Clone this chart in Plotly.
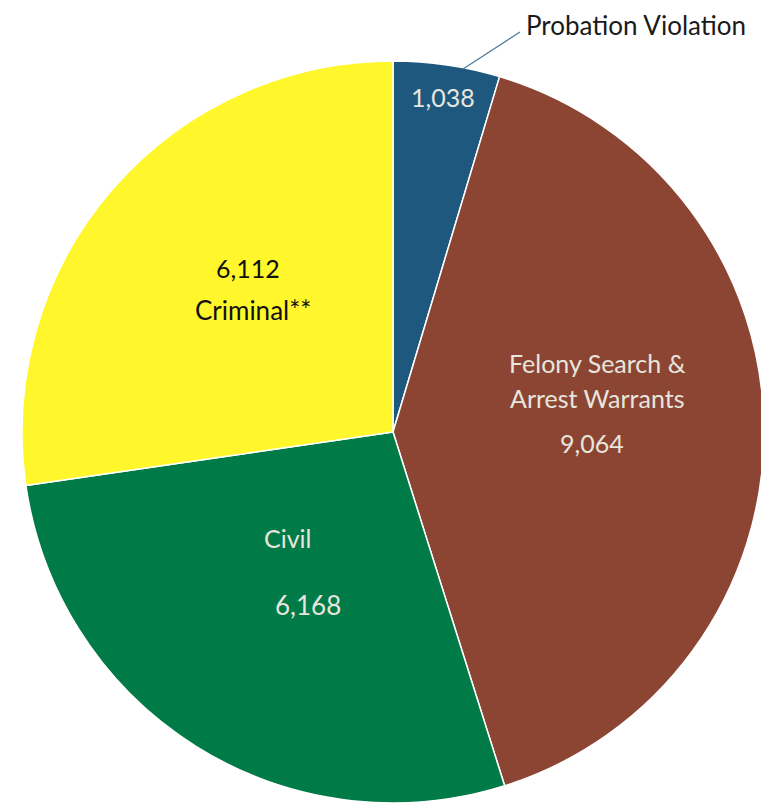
import plotly.graph_objects as go

categories = ["Probation Violation", "Felony Search & Arrest Warrants", "Civil", "Criminal**"]
values = [1038, 9064, 6168, 6112]
colors = ["#1F587E", "#8C4532", "#007A46", "#FFF72C"]

W, H = 769, 805
OFF = 8  # page body margin offset

def px(x, y):
    return (x - OFF) / W, 1 - (y - OFF) / H

dx0, _ = px(22, 0)
dx1, _ = px(764, 0)
_, dy1 = px(0, 61)
_, dy0 = px(0, 803)

fig = go.Figure(go.Pie(
    labels=categories,
    values=values,
    sort=False,
    direction="clockwise",
    rotation=0,
    marker=dict(colors=colors, line=dict(color="white", width=1.5)),
    textinfo="none",
    hoverinfo="label+value",
    showlegend=False,
    domain=dict(x=[dx0, dx1], y=[dy0, dy1]),
))

font_name = "Lato, Open Sans, sans-serif"
light = "#E6E6DF"

labels = [
    ("Probation Violation", 636, 25, 26, "#1a1a1a"),
    (f"{values[0]:,}", 443, 97, 25, light),
    (f"{values[3]:,}", 248, 268, 25, "#111111"),
    ("Criminal**", 253, 310, 26, "#111111"),
    ("Felony Search &", 597, 363, 25, light),
    ("Arrest Warrants", 597, 398, 25, light),
    (f"{values[1]:,}", 592, 443, 25, light),
    ("Civil", 288, 538, 25, light),
    (f"{values[2]:,}", 308, 605, 26, light),
]

anns = []
for text, x, y, size, color in labels:
    xp, yp = px(x, y)
    anns.append(dict(text=text, x=xp, y=yp, xref="paper", yref="paper",
                     xanchor="center", yanchor="middle", showarrow=False,
                     borderpad=0,
                     font=dict(family=font_name, size=size, color=color)))

x0, y0 = px(463, 69)
x1, y1 = px(520, 32)
fig.update_layout(
    width=W, height=H,
    margin=dict(l=0, r=0, t=0, b=0),
    paper_bgcolor="white", plot_bgcolor="white",
    annotations=anns,
    shapes=[dict(type="line", xref="paper", yref="paper", x0=x0, y0=y0, x1=x1, y1=y1,
                 line=dict(color="#4A7A9A", width=1.2))],
)

fig.write_html("out.html")
